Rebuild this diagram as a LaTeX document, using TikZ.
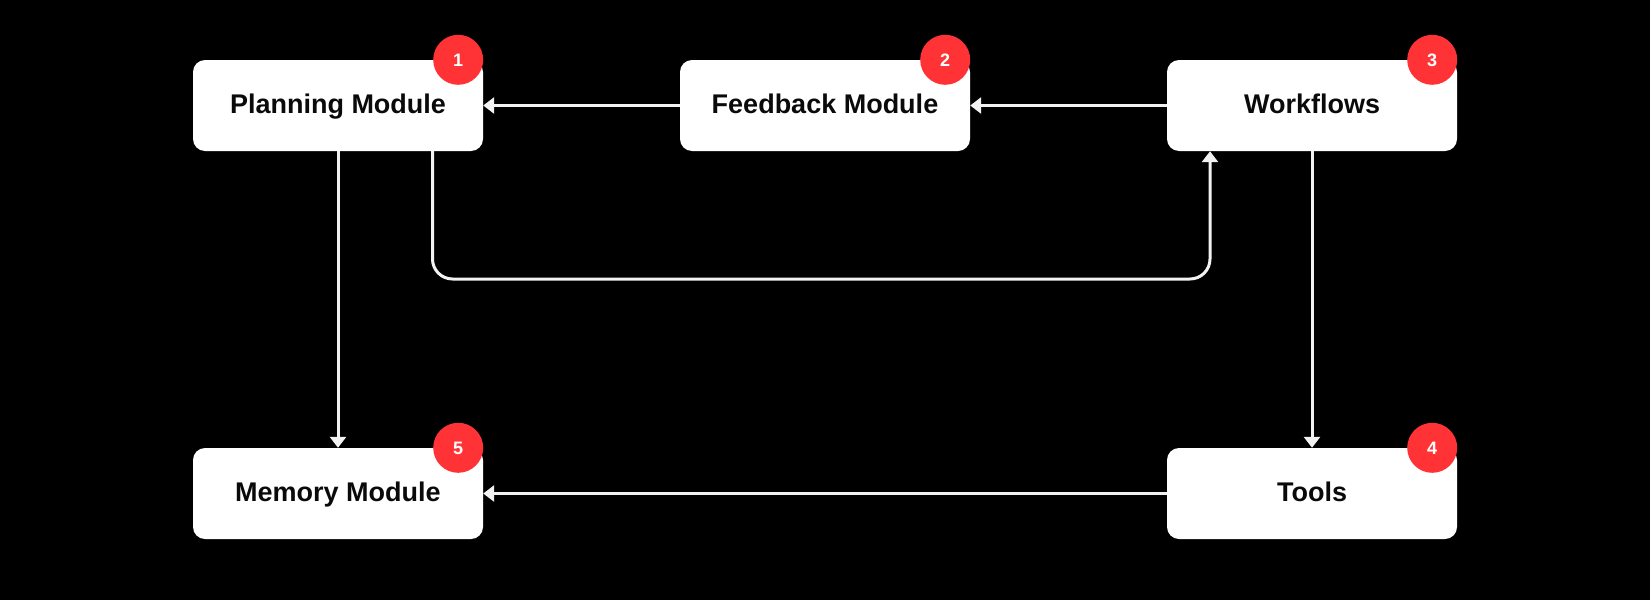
\documentclass[tikz,border=0pt]{standalone}
\usepackage{fontspec}
\setmainfont{Liberation Sans}
\usetikzlibrary{arrows.meta}
\definecolor{badgered}{HTML}{FF3336}
\definecolor{boxtext}{HTML}{0A0A0A}
\definecolor{linecol}{HTML}{F2F2F2}
\tikzset{
  modbox/.style={rectangle, rounded corners=12pt, fill=white, draw=none,
    minimum width=290pt, minimum height=91pt, inner sep=0pt,
    text height=19pt, text depth=3.5pt,
    font=\fontsize{27}{31}\selectfont\bfseries, text=boxtext},
  badge/.style={circle, fill=badgered, minimum size=50pt, inner sep=0pt,
    text height=13pt, text depth=0pt,
    font=\fontsize{18}{20}\selectfont\bfseries, text=white},
  conn/.style={draw=linecol, line width=3pt, rounded corners=20pt,
    -{Triangle[width=16pt,length=11pt]}}
}
\begin{document}
\begin{tikzpicture}[x=1pt,y=-1pt]
\fill[black] (0,0) rectangle (1650,600);
\useasboundingbox (0,0) rectangle (1650,600);
\node[modbox] (Planning) at (338,105.5) {Planning Module};
\node[modbox] (Feedback) at (825,105.5) {Feedback Module};
\node[modbox] (Workflows) at (1312,105.5) {Workflows};
\node[modbox] (Memory) at (338,493.5) {Memory Module};
\node[modbox] (Tools) at (1312,493.5) {Tools};
\node[badge] (b1) at ([xshift=-25pt]Planning.north east) {1};
\node[badge] (b2) at ([xshift=-25pt]Feedback.north east) {2};
\node[badge] (b3) at ([xshift=-25pt]Workflows.north east) {3};
\node[badge] (b4) at ([xshift=-25pt]Tools.north east) {4};
\node[badge] (b5) at ([xshift=-25pt]Memory.north east) {5};
\coordinate (pa) at ([xshift=94.5pt]Planning.south);
\coordinate (wa) at ([xshift=-102pt]Workflows.south);
\coordinate (lp) at (0,279);
\draw[conn] (Workflows.west) -- (Feedback.east);
\draw[conn] (Feedback.west) -- (Planning.east);
\draw[conn] (Planning.south) -- (Memory.north);
\draw[conn] (pa) -- (pa |- lp) -- (wa |- lp) -- (wa);
\draw[conn] (Workflows.south) -- (Tools.north);
\draw[conn] (Tools.west) -- (Memory.east);
\end{tikzpicture}
\end{document}
